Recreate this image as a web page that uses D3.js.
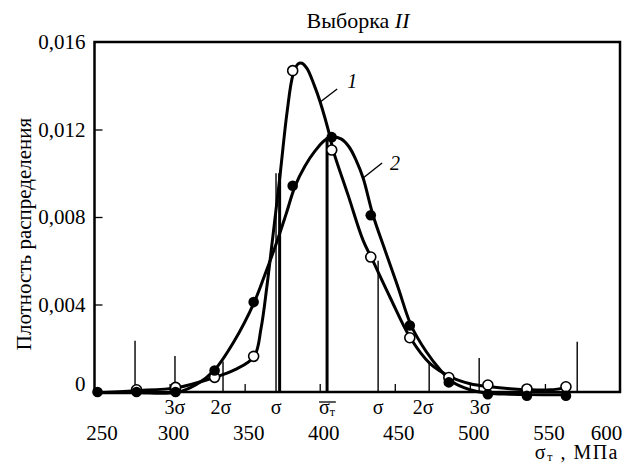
<!DOCTYPE html>
<html><head><meta charset="utf-8">
<script src="https://cdn.jsdelivr.net/npm/d3@7"></script>
<style>
html,body{margin:0;padding:0;background:#fff;}
svg text{font-family:"Liberation Serif","DejaVu Serif",serif;fill:#000;}
</style></head>
<body><svg id="c" width="629" height="464"></svg>
<script>
// ---- data ----
const xTickVals = [250, 300, 350, 400, 450, 500, 550, 600];
const xInnerTicks = [300, 350, 400, 450, 500, 550];
const yTickVals = [0, 0.004, 0.008, 0.012, 0.016];

// measured points (interval centres, MPa)
const pointX = [252, 278, 304, 330, 356, 382, 408, 434, 460, 486, 512, 538, 564];
const series2Y = [0, 0, 0, 0.00098, 0.00411, 0.00943, 0.01165, 0.00808, 0.00304, 0.00044, -0.0001, -0.00017, -0.00017];
const series1X = [278, 304, 330, 356, 382, 408, 434, 460, 486, 512, 538, 564];
const series1Y = [0.0001, 0.00021, 0.00067, 0.00163, 0.01469, 0.01106, 0.00617, 0.00248, 0.00066, 0.00032, 0.00014, 0.00024];

// smooth density curves (x in MPa, y in 1e-3)
const curve1X = [251.7, 277, 305, 329.6, 343.6, 356.3, 360.9, 364.9, 368.9, 373.6, 378.2, 382.2, 385.6, 388.2, 391.6, 396.2, 400.3, 406.9, 408.9, 418.9, 428.9, 434.9, 446.9, 460.2, 473.5, 488.2, 500.2, 513.5, 526.8, 540.1, 553.5, 564.8];
const curve1Y = [-0.03, 0.06, 0.2, 0.66, 1.02, 1.62, 2.9, 4.87, 7.17, 9.92, 12.76, 14.5, 15.0, 15.03, 14.78, 14.05, 13.26, 11.66, 11.06, 9.0, 6.93, 6.07, 4.32, 2.49, 1.3, 0.66, 0.38, 0.24, 0.15, 0.1, 0.1, 0.2];
const curve2X = [251.7, 277, 305, 317.6, 329.6, 342.9, 356.3, 363.6, 370.9, 377.6, 383.6, 390.2, 396.9, 403.6, 408.9, 414.2, 419.6, 424.2, 428.9, 435.5, 443.5, 452.2, 460.9, 470.9, 480.2, 488.2, 500.2, 512.2, 526.8, 538.8, 564.1];
const curve2Y = [-0.03, -0.03, -0.01, 0.33, 0.98, 2.31, 4.09, 5.38, 6.75, 8.13, 9.41, 10.33, 11.02, 11.52, 11.66, 11.57, 11.2, 10.6, 9.78, 8.08, 6.48, 4.78, 3.04, 1.85, 1.02, 0.47, 0.105, -0.055, -0.1, -0.12, -0.12];

// vertical marker lines (mean, sigma levels, extremes, histogram bar)
const thinLineX = [277, 303.6, 335.6, 370.9, 438.9, 472.9, 506.2, 571.5];
const thinLineY = [0.00234, 0.00165, 0.0014, 0.0100, 0.0060, 0.0014, 0.00156, 0.0023];
const thickLineX = [373.3, 404.9];
const thickLineY = [0.0100, 0.01165];

const sigmaPos = [303.6, 336.9, 370.9, 404.9, 438.9, 472.9, 506.9];
const sigmaLabels = ["3σ", "2σ", "σ", "MEAN", "σ", "2σ", "3σ"];

const titleText = "Выборка ";
const titleItalic = "II";
const yTitle = "Плотность распределения";
const curveLabels = ["1", "2"];
const curveLabelAnchorX = [400.3, 428.9];

// ---- drawing ----
const svg = d3.select("#c");
const x = d3.scaleLinear().domain([250, 600]).range([94.5, 620]);
const y = d3.scaleLinear().domain([0, 0.016]).range([392, 42]);
const fmt = v => v === 0 ? "0" : d3.format(".3f")(v).replace(".", ",");

// frame
svg.append("rect").attr("x", x(250)).attr("y", y(0.016))
  .attr("width", x(600) - x(250)).attr("height", y(0) - y(0.016))
  .attr("fill", "none").attr("stroke", "#000").attr("stroke-width", 2.5);

// inner y ticks
svg.append("g").attr("transform", `translate(${x(250)},0)`)
  .call(d3.axisRight(y).tickValues([0.004, 0.008, 0.012]).tickSize(8).tickFormat(""))
  .call(g => g.select(".domain").remove())
  .call(g => g.selectAll("line").attr("stroke", "#000").attr("stroke-width", 1.3));
// y labels
svg.append("g").attr("transform", `translate(${x(250)},0)`)
  .call(d3.axisLeft(y).tickValues(yTickVals).tickSize(0).tickPadding(9).tickFormat(fmt))
  .call(g => g.select(".domain").remove())
  .call(g => g.selectAll("text").attr("font-size", 21).attr("font-family", "Liberation Serif")
     .attr("dy", d => d === 0 ? "-0.05em" : "0.32em"));

// inner x ticks
svg.append("g").attr("transform", `translate(0,${y(0)})`)
  .call(d3.axisTop(x).tickValues(xInnerTicks).tickSize(8).tickFormat(""))
  .call(g => g.select(".domain").remove())
  .call(g => g.selectAll("line").attr("stroke", "#000").attr("stroke-width", 1.3));
// x labels
svg.append("g").attr("transform", `translate(0,${y(0)})`)
  .call(d3.axisBottom(x).tickValues(xTickVals).tickSize(0).tickPadding(48).tickFormat(d3.format("d")))
  .call(g => g.select(".domain").remove())
  .call(g => g.selectAll("text").attr("font-size", 21).attr("font-family", "Liberation Serif")
     .attr("dy", "0").attr("dx", d => d === 250 ? 7 : d === 600 ? -14 : 3.5));

// vertical lines
svg.append("g").selectAll("line").data(thinLineX).join("line")
  .attr("x1", d => x(d)).attr("x2", d => x(d))
  .attr("y1", y(0)).attr("y2", (d, i) => y(thinLineY[i]))
  .attr("stroke", "#000").attr("stroke-width", 1.4);
svg.append("g").selectAll("line").data(thickLineX).join("line")
  .attr("x1", d => x(d)).attr("x2", d => x(d))
  .attr("y1", y(0)).attr("y2", (d, i) => y(thickLineY[i]))
  .attr("stroke", "#000").attr("stroke-width", 3);

// curves
const line = d3.line().x(d => x(d[0])).y(d => y(d[1] / 1000)).curve(d3.curveCatmullRom.alpha(0.5));
const c1 = curve1X.map((v, i) => [v, curve1Y[i]]);
const c2 = curve2X.map((v, i) => [v, curve2Y[i]]);
svg.append("path").attr("d", line(c1)).attr("fill", "none").attr("stroke", "#000").attr("stroke-width", 3);
svg.append("path").attr("d", line(c2)).attr("fill", "none").attr("stroke", "#000").attr("stroke-width", 3);

// markers
svg.append("g").selectAll("circle").data(series1X).join("circle")
  .attr("cx", d => x(d)).attr("cy", (d, i) => y(series1Y[i])).attr("r", 5)
  .attr("fill", "#fff").attr("stroke", "#000").attr("stroke-width", 1.6);
svg.append("g").selectAll("circle").data(pointX).join("circle")
  .attr("cx", d => x(d)).attr("cy", (d, i) => y(series2Y[i])).attr("r", 5.3)
  .attr("fill", "#000");

// sigma labels
const sg = svg.append("g").attr("font-size", 20);
sigmaPos.forEach((p, i) => {
  const lab = sigmaLabels[i];
  if (lab === "MEAN") {
    const t = sg.append("text").attr("x", x(p)).attr("y", 414).attr("text-anchor", "middle");
    t.append("tspan").text("σ");
    t.append("tspan").attr("font-size", 12).attr("dy", 2).text("т");
    const bb = t.node().getBBox();
    sg.append("line").attr("x1", bb.x).attr("x2", bb.x + bb.width)
      .attr("y1", 402).attr("y2", 402).attr("stroke", "#000").attr("stroke-width", 1.3);
  } else {
    sg.append("text").attr("x", x(p) - (lab === "2σ" ? (i < 3 ? 4 : 6) : 0)).attr("y", 414)
      .attr("text-anchor", "middle").text(lab);
  }
});

// x axis title
const xt = svg.append("text").attr("x", 619).attr("y", 459).attr("text-anchor", "end")
  .attr("font-size", 20).attr("letter-spacing", 1.5);
xt.append("tspan").text("σ");
xt.append("tspan").attr("font-size", 12).attr("dy", 1.5).text("т");
xt.append("tspan").attr("dy", -1.5).text(" ,  МПа");

// y axis title
svg.append("text").attr("transform", "translate(31,234) rotate(-90)")
  .attr("text-anchor", "middle").attr("font-size", 21).text(yTitle);

// title
const tt = svg.append("text").attr("x", 358).attr("y", 28).attr("text-anchor", "middle").attr("font-size", 22);
tt.append("tspan").text(titleText);
tt.append("tspan").attr("font-style", "italic").text(titleItalic);

// curve labels with leaders
const curves = [c1, c2];
const leadDx = [17, 19], leadDy = [-13, -15], labDx = [27, 27], labDy = [-14, -8];
curveLabels.forEach((lab, i) => {
  const ax = curveLabelAnchorX[i];
  const pts = curves[i];
  let best = pts[0];
  pts.forEach(p => { if (Math.abs(p[0] - ax) < Math.abs(best[0] - ax)) best = p; });
  const px = x(best[0]), py = y(best[1] / 1000);
  svg.append("line").attr("x1", px).attr("y1", py).attr("x2", px + leadDx[i]).attr("y2", py + leadDy[i])
    .attr("stroke", "#000").attr("stroke-width", 1.4);
  svg.append("text").attr("x", px + labDx[i]).attr("y", py + labDy[i]).attr("font-size", 20)
    .attr("font-style", "italic").text(lab);
});
</script></body></html>
